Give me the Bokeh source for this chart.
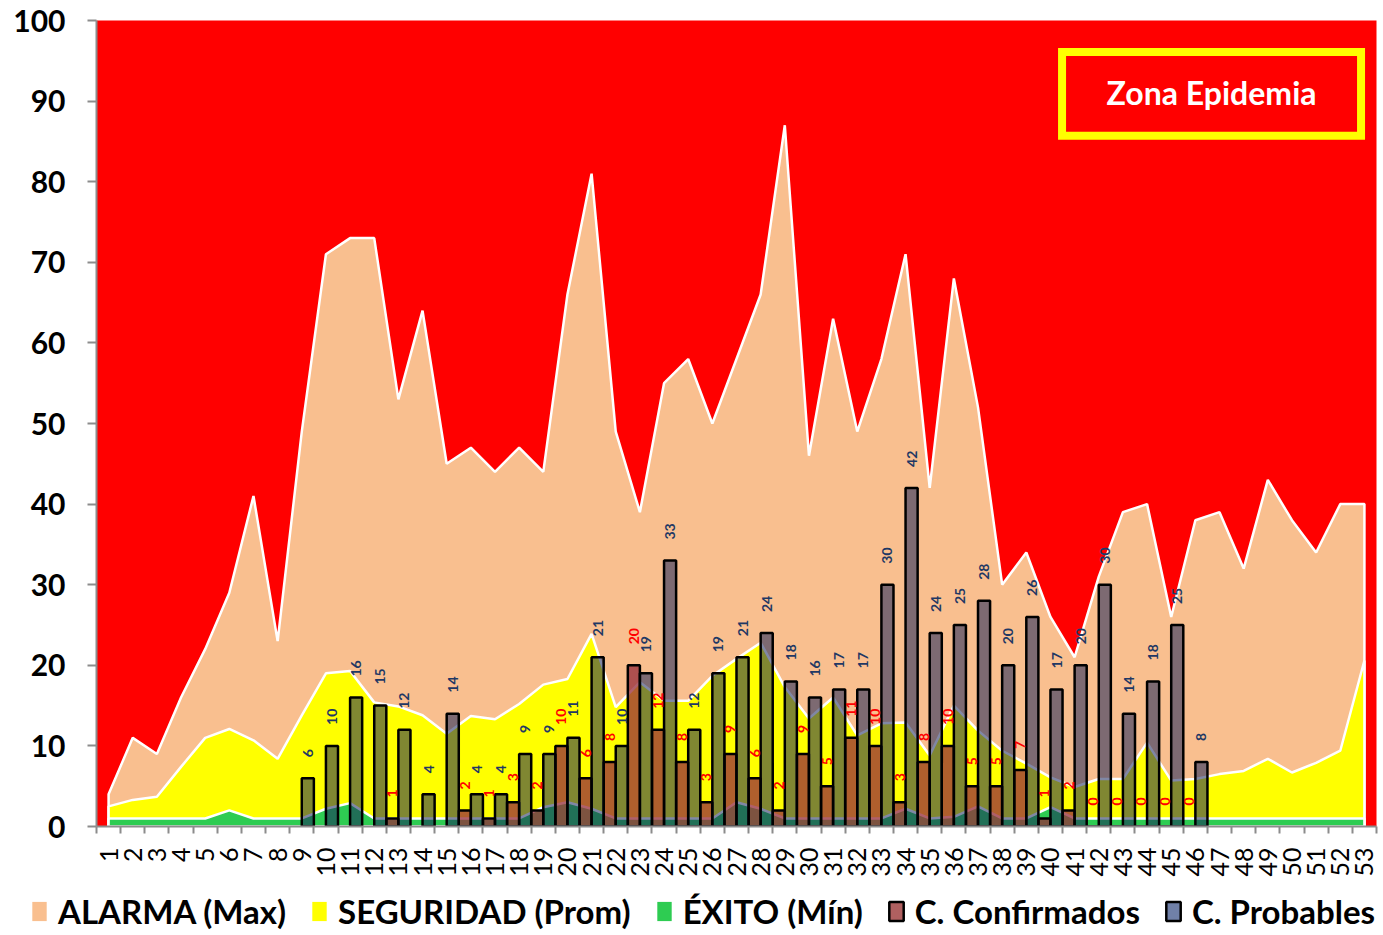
import math
from bokeh.plotting import figure
from bokeh.layouts import column
from bokeh.models import ColumnDataSource, FixedTicker, Legend, LegendItem, BoxAnnotation, Label
from bokeh.core.properties import value
from bokeh.embed import file_html
from bokeh.resources import INLINE

# ---------------- data ----------------
weeks = [str(i) for i in range(1, 54)]

alarma = [4, 11, 9, 16, 22, 29, 41, 23, 49, 71, 73, 73, 53, 64, 45, 47, 44, 47, 44, 66,
          81, 49, 39, 55, 58, 50, 58, 66, 87, 46, 63, 49, 58, 71, 42, 68, 52, 30, 34, 26,
          21, 31, 39, 40, 26, 38, 39, 32, 43, 38, 34, 40, 40]

seguridad = [2.5, 3.3, 3.7, 7.4, 11, 12.1, 10.7, 8.4, 13.8, 19, 19.3, 15.4, 14.9, 13.8, 11.5,
             13.7, 13.3, 15.2, 17.6, 18.3, 23.9, 14.8, 17.9, 15.6, 15.6, 18.7, 20.8, 22.8,
             17.3, 13.4, 16, 11.3, 12.8, 12.9, 8.8, 15, 11.9, 9.4, 7.8, 6.1, 4.9, 5.9, 5.9,
             10.4, 5.7, 5.9, 6.5, 6.9, 8.4, 6.7, 7.9, 9.4, 20.6]

exito = [1, 1, 1, 1, 1, 2, 1, 1, 1, 2.2, 2.9, 1, 1, 1, 1, 1, 1, 1, 2.4, 3.0,
         2.2, 1, 1, 1, 1, 1, 3.0, 2.2, 1, 1, 1, 1, 1, 2.2, 1, 1.2, 2.5, 1, 1, 2.4,
         1, 1, 1, 1, 1, 1, 1, 1, 1, 1, 1, 1, 1]

N = None
confirmados = [N, N, N, N, N, N, N, N, N, N, N, N, 1, N, N, 2, 1, 3, 2, 10,
               6, 8, 20, 12, 8, 3, 9, 6, 2, 9, 5, 11, 10, 3, 8, 10, 5, 5, 7, 1,
               2, 0, 0, 0, 0, 0, N, N, N, N, N, N, N]

probables = [N, N, N, N, N, N, N, N, 6, 10, 16, 15, 12, 4, 14, 4, 4, 9, 9, 11,
             21, 10, 19, 33, 12, 19, 21, 24, 18, 16, 17, 17, 30, 42, 24, 25, 28, 20, 26, 17,
             20, 30, 14, 18, 25, 8, N, N, N, N, N, N, N]

legend_labels = ["ALARMA (Max)", "SEGURIDAD (Prom)", "ÉXITO (Mín)", "C. Confirmados", "C. Probables"]

# ---------------- main figure ----------------
FONT = "Lato"
p = figure(width=1383, height=885, x_range=(0.5, 53.5), y_range=(0, 100),
           output_backend="svg", toolbar_location=None,
           min_border_left=96, min_border_right=7, min_border_top=20, min_border_bottom=59)
p.frame_align = False
p.background_fill_color = "#FF0000"
p.border_fill_color = "white"
p.outline_line_color = None
p.xgrid.visible = False
p.ygrid.visible = False

xnum = list(range(1, len(weeks) + 1))

def area(vals):
    return [xnum[0]] + xnum + [xnum[-1]], [0] + list(vals) + [0]

ax, ay = area(alarma)
p.patch(ax, ay, fill_color="#F9BF8F", line_color="white", line_width=2.5)
sx_, sy_ = area(seguridad)
p.patch(sx_, sy_, fill_color="#FFFF00", line_color="white", line_width=2.5)
ex, ey = area(exito)
p.patch(ex, ey, fill_color="#2ECC52", line_color="white", line_width=2.5)

conf_src = ColumnDataSource(dict(
    x=[i - 0.25 for i, v in zip(xnum, confirmados) if v is not None],
    top=[v for v in confirmados if v is not None],
    label=[str(v) for v in confirmados if v is not None]))
prob_src = ColumnDataSource(dict(
    x=[i + 0.25 for i, v in zip(xnum, probables) if v is not None],
    top=[v for v in probables if v is not None],
    label=[str(v) for v in probables if v is not None]))

p.vbar(x="x", top="top", width=0.5, bottom=0, source=conf_src,
       fill_color="#962D3B", fill_alpha=0.76, line_color="black", line_width=2.5)
p.vbar(x="x", top="top", width=0.5, bottom=0, source=prob_src,
       fill_color="#18245B", fill_alpha=0.55, line_color="black", line_width=2.5)

p.text(x="x", y="top", text="label", source=conf_src, angle=math.pi / 2,
       text_align="left", text_baseline="middle", y_offset=-21,
       text_font=value(FONT), text_font_style="bold", text_font_size="14px",
       text_color="#FF0000")
p.text(x="x", y="top", text="label", source=prob_src, angle=math.pi / 2,
       text_align="left", text_baseline="middle", y_offset=-21,
       text_font=value(FONT), text_font_style="bold", text_font_size="14px",
       text_color="#1F3864")

# Zona Epidemia box
p.add_layout(BoxAnnotation(left=40.48, right=52.86, bottom=85.7, top=96.1,
                           fill_color="#FF0000", fill_alpha=1.0,
                           line_color="#FFFF00", line_alpha=1.0, line_width=8,
                           line_join="miter"))
p.add_layout(Label(x=46.67, y=91.1, text="Zona Epidemia", text_align="center",
                   text_baseline="middle", text_color="white", text_font=FONT,
                   text_font_style="bold", text_font_size="32px"))

# axes
p.xaxis.ticker = FixedTicker(ticks=xnum, minor_ticks=[k + 0.5 for k in range(0, len(weeks) + 1)])
p.xaxis.major_label_overrides = {i: w for i, w in zip(xnum, weeks)}
p.xaxis.major_tick_line_color = None
p.xaxis.minor_tick_line_color = "#8C8C8C"
p.xaxis.minor_tick_line_width = 2
p.xaxis.minor_tick_in = 0
p.xaxis.minor_tick_out = 7
p.xaxis.axis_line_color = "#8C8C8C"
p.xaxis.axis_line_width = 2
p.xaxis.major_label_orientation = math.pi / 2
p.xaxis.major_label_standoff = 14
p.xaxis.major_label_text_font = FONT
p.xaxis.major_label_text_font_size = "25px"
p.xaxis.major_label_text_color = "black"

p.yaxis.ticker = FixedTicker(ticks=list(range(0, 101, 10)))
p.yaxis.major_tick_line_color = "#8C8C8C"
p.yaxis.major_tick_line_width = 2
p.yaxis.major_tick_in = 0
p.yaxis.major_tick_out = 9
p.yaxis.minor_tick_line_color = None
p.yaxis.axis_line_color = "#8C8C8C"
p.yaxis.axis_line_width = 2
p.yaxis.major_label_standoff = 22
p.yaxis.major_label_text_font = FONT
p.yaxis.major_label_text_font_style = "bold"
p.yaxis.major_label_text_font_size = "30px"
p.yaxis.major_label_text_color = "black"

# ---------------- legend strip ----------------
q = figure(width=1383, height=50, x_range=(0, 1), y_range=(0, 1),
           output_backend="svg", toolbar_location=None, min_border=0,
           x_axis_location=None, y_axis_location=None)
q.frame_align = False
q.grid.visible = False
q.outline_line_color = None
q.background_fill_color = "white"
q.border_fill_color = "white"

nan = float("nan")
sw_styles = [("#F9BF8F", None), ("#FFFF00", None), ("#2ECC52", None),
             ("#B06060", "black"), ("#7080A8", "black")]
sw = [q.rect(x="x", y="y", width=1, height=1, source=ColumnDataSource(dict(x=[nan], y=[nan])),
             fill_color=fc, line_color=lc, line_width=2.5) for fc, lc in sw_styles]
leg = Legend(items=[LegendItem(label=lab, renderers=[r]) for lab, r in zip(legend_labels, sw)],
             location=(30, 4), orientation="horizontal", glyph_width=18, glyph_height=24,
             label_standoff=10, padding=0, margin=0, spacing=24,
             border_line_color=None, background_fill_alpha=0,
             label_text_font=FONT, label_text_font_style="bold",
             label_text_font_size="33px", label_text_color="black")
q.add_layout(leg)

open("out.html", "w").write(file_html(column(p, q, spacing=0), INLINE))
